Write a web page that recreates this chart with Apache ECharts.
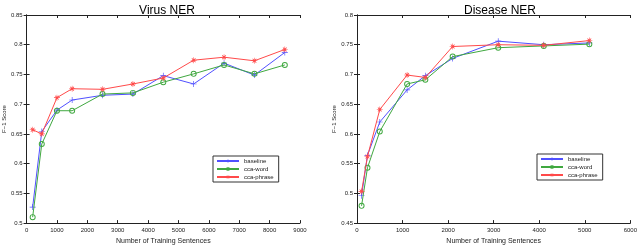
<!DOCTYPE html>
<html><head><meta charset="utf-8">
<script src="https://cdn.jsdelivr.net/npm/echarts@6/dist/echarts.min.js"></script>
<style>html,body{margin:0;padding:0;background:#fff}#c{width:640px;height:250px}</style>
</head><body><div id="c"></div>
<script>
const seriesNames = ['baseline', 'cca-word', 'cca-phrase'];

const virusX = [200, 500, 1000, 1500, 2500, 3500, 4500, 5500, 6500, 7500, 8500];
const virusBaseline = [0.527, 0.654, 0.690, 0.707, 0.715, 0.717, 0.748, 0.734, 0.769, 0.749, 0.787];
const virusWord     = [0.510, 0.633, 0.689, 0.689, 0.717, 0.719, 0.737, 0.751, 0.766, 0.751, 0.766];
const virusPhrase   = [0.657, 0.650, 0.711, 0.726, 0.725, 0.734, 0.744, 0.774, 0.779, 0.773, 0.792];

const diseaseX = [100, 230, 500, 1100, 1500, 2100, 3100, 4100, 5100];
const diseaseBaseline = [0.496, 0.564, 0.620, 0.674, 0.698, 0.727, 0.756, 0.750, 0.753];
const diseaseWord     = [0.479, 0.543, 0.604, 0.684, 0.691, 0.730, 0.745, 0.748, 0.751];
const diseasePhrase   = [0.503, 0.562, 0.641, 0.699, 0.695, 0.747, 0.750, 0.749, 0.757];

const titles = ['Virus NER', 'Disease NER'];
const xAxisName = 'Number of Training Sentences';
const yAxisName = 'F\u22121 Score';

const colors = ['#5050ff', '#40a840', '#ff4a4a'];
const plusSym = 'path://M4,0h1v4h4v1h-4v4h-1v-4h-4v-1h4z';
const ringSym = 'path://M5,0A5,5 0 1,1 5,10A5,5 0 1,1 5,0ZM5,1.6A3.4,3.4 0 1,0 5,8.4A3.4,3.4 0 1,0 5,1.6Z';
const starSym = 'path://M4,0h1v3.3l2.6-2l0.7,0.7l-2,2.5h3.7v1h-3.7l2,2.5l-0.7,0.7l-2.6-2v3.3h-1v-3.3l-2.6,2l-0.7-0.7l2-2.5h-3.7v-1h3.7l-2-2.5l0.7-0.7l2.6,2z';

const font = 'Liberation Sans, Arial, sans-serif';
const grids = [
  {left: 24, top: 15, width: 276, height: 218},
  {left: 357, top: 15, width: 276, height: 218}
];
const xMax = [9000, 6000];
const yMin = [0.5, 0.45];
const yMax = [0.85, 0.8];

const xAxes = [], yAxes = [], series = [], legends = [], titleComps = [];
grids.forEach((g, i) => {
  const base = {
    type: 'value', gridIndex: i, min: 0, max: xMax[i], interval: 1000,
    axisLine: {show: true, lineStyle: {color: '#222', width: 1}},
    axisTick: {show: true, inside: true, length: 3, lineStyle: {color: '#222'}},
    splitLine: {show: false}
  };
  xAxes.push(Object.assign({}, base, {
    position: 'bottom',
    axisLabel: {fontSize: 6, color: '#222', fontFamily: font, margin: 4, formatter: v => String(v)},
    name: xAxisName, nameLocation: 'middle', nameGap: 12,
    nameTextStyle: {fontSize: 7, color: '#222', fontFamily: font}
  }));
  xAxes.push(Object.assign({}, base, {position: 'top', axisLabel: {show: false}}));
  const ybase = {
    type: 'value', gridIndex: i, min: yMin[i], max: yMax[i], interval: 0.05,
    axisLine: {show: true, lineStyle: {color: '#222', width: 1}},
    axisTick: {show: true, inside: true, length: 3, lineStyle: {color: '#222'}},
    splitLine: {show: false}
  };
  yAxes.push(Object.assign({}, ybase, {
    position: 'left',
    axisLabel: {fontSize: 6, color: '#222', fontFamily: font, margin: 4,
      formatter: v => String(parseFloat(v.toFixed(2)))},
    name: yAxisName, nameLocation: 'middle', nameGap: 17, nameRotate: 90,
    nameTextStyle: {fontSize: 6, color: '#222', fontFamily: font}
  }));
  yAxes.push(Object.assign({}, ybase, {position: 'right', axisLabel: {show: false}}));
  titleComps.push({
    text: titles[i], left: g.left + g.width / 2, top: 0, textAlign: 'center',
    textStyle: {fontSize: 12, fontWeight: 'normal', color: '#000', fontFamily: font}
  });
});

function addSeries(gi, xs, ys, k) {
  const sym = [plusSym, ringSym, starSym][k];
  series.push({
    name: seriesNames[k], type: 'line', xAxisIndex: gi * 2, yAxisIndex: gi * 2,
    data: xs.map((x, j) => [x, ys[j]]),
    symbol: sym, symbolSize: k === 1 ? 6 : 6,
    showSymbol: true,
    lineStyle: {color: colors[k], width: 1},
    itemStyle: {color: colors[k], borderWidth: 0},
    animation: false, z: 3 + k
  });
}
[virusBaseline, virusWord, virusPhrase].forEach((ys, k) => addSeries(0, virusX, ys, k));
[diseaseBaseline, diseaseWord, diseasePhrase].forEach((ys, k) => addSeries(1, diseaseX, ys, k));

const legendPos = [{left: 213, top: 156}, {left: 537, top: 154}];
legendPos.forEach(p => {
  legends.push({
    left: p.left, top: p.top, orient: 'vertical', data: seriesNames,
    backgroundColor: '#fff', borderColor: '#333', borderWidth: 1, borderRadius: 0,
    padding: [2, 5, 2, 3], itemGap: 2, itemWidth: 22, itemHeight: 5,
    textStyle: {fontSize: 6, color: '#222', fontFamily: font},
    selectedMode: false
  });
});

const chart = echarts.init(document.getElementById('c'), null, {renderer: 'canvas'});
chart.setOption({
  animation: false,
  backgroundColor: '#fff',
  title: titleComps,
  grid: grids,
  xAxis: xAxes,
  yAxis: yAxes,
  legend: legends,
  series: series
});
</script>
</body></html>
